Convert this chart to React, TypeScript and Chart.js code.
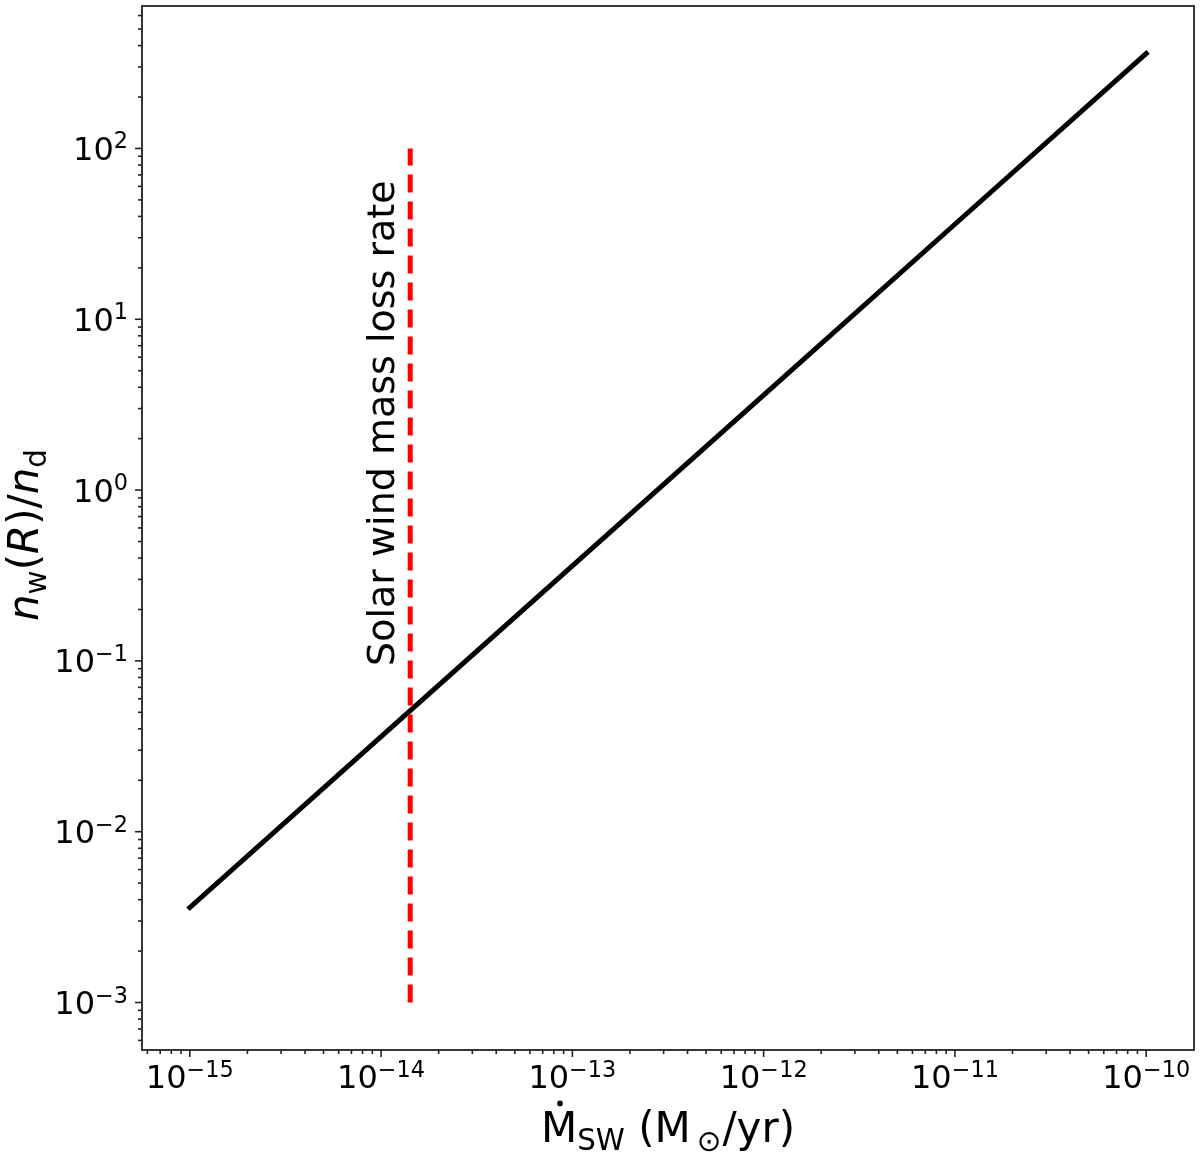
import React, { useEffect, useRef } from "react";
import { Chart, registerables } from "chart.js";

Chart.register(...registerables);

// Data
const massLossRate = [1e-15, 1e-14, 1e-13, 1e-12, 1e-11, 1e-10];
const densityRatio = [3.6e-3, 3.6e-2, 0.36, 3.6, 36, 360];
const solarMassLoss = [1.42e-14, 1.42e-14];
const solarLineRatio = [1e-3, 1e2];
const xTickExponents = [-15, -14, -13, -12, -11, -10];
const yTickExponents = [-3, -2, -1, 0, 1, 2];
const annotationText = "Solar wind mass loss rate";
const annotationY = 0.1;

const X_MIN = Math.pow(10, -15.25);
const X_MAX = Math.pow(10, -9.75);
const Y_MIN = Math.pow(10, -3.278);
const Y_MAX = Math.pow(10, 2.834);

const FONT = '"DejaVu Sans", "Liberation Sans", sans-serif';

type Seg = { t: string; size: number; italic?: boolean; dy?: number; gap?: number };

function segFont(s: Seg) {
  return `${s.italic ? "italic " : ""}${s.size}px ${FONT}`;
}
function richWidth(ctx: CanvasRenderingContext2D, segs: Seg[]) {
  let w = 0;
  for (const s of segs) {
    ctx.font = segFont(s);
    w += ctx.measureText(s.t).width + (s.gap || 0);
  }
  return w;
}
function drawRich(ctx: CanvasRenderingContext2D, segs: Seg[], x: number, y: number) {
  let cx = x;
  const pos: number[] = [];
  for (const s of segs) {
    ctx.font = segFont(s);
    pos.push(cx);
    ctx.fillText(s.t, cx, y + (s.dy || 0));
    cx += ctx.measureText(s.t).width + (s.gap || 0);
  }
  return pos;
}
function sup(exp: number): Seg[] {
  const e = exp < 0 ? "\u2212" + String(-exp) : String(exp);
  return [
    { t: "10", size: 32 },
    { t: e, size: 22.4, dy: -11.5 },
  ];
}

const axesPlugin = {
  id: "mplAxes",
  afterDraw(chart: any) {
    const ctx: CanvasRenderingContext2D = chart.ctx;
    const { left, right, top, bottom } = chart.chartArea;
    const xs = chart.scales.x;
    const ys = chart.scales.y;
    ctx.save();
    ctx.textAlign = "left";
    ctx.textBaseline = "alphabetic";
    ctx.fillStyle = "#000";

    // spines
    ctx.strokeStyle = "#222";
    ctx.lineWidth = 1.8;
    ctx.strokeRect(left, top, right - left, bottom - top);

    // ticks
    ctx.lineWidth = 1.6;
    const drawXTick = (v: number, len: number) => {
      const px = xs.getPixelForValue(v);
      ctx.beginPath();
      ctx.moveTo(px, bottom);
      ctx.lineTo(px, bottom + len);
      ctx.stroke();
    };
    const drawYTick = (v: number, len: number) => {
      const py = ys.getPixelForValue(v);
      ctx.beginPath();
      ctx.moveTo(left, py);
      ctx.lineTo(left - len, py);
      ctx.stroke();
    };
    for (let d = -16; d <= -9; d++) {
      for (let k = 1; k <= 9; k++) {
        const v = k * Math.pow(10, d);
        if (v < X_MIN || v > X_MAX) continue;
        drawXTick(v, k === 1 ? 7 : 4);
      }
    }
    for (let d = -4; d <= 3; d++) {
      for (let k = 1; k <= 9; k++) {
        const v = k * Math.pow(10, d);
        if (v < Y_MIN || v > Y_MAX) continue;
        drawYTick(v, k === 1 ? 7 : 4);
      }
    }

    // tick labels
    for (const e of xTickExponents) {
      const segs = sup(e);
      const w = richWidth(ctx, segs);
      const px = xs.getPixelForValue(Math.pow(10, e));
      drawRich(ctx, segs, px - w / 2, bottom + 38);
    }
    for (const e of yTickExponents) {
      const segs = sup(e);
      const w = richWidth(ctx, segs);
      const py = ys.getPixelForValue(Math.pow(10, e));
      drawRich(ctx, segs, left - 14 - w, py + 11.5);
    }

    // x label: Ṁ_SW (M_⊙/yr)
    const LS = 42;
    const xl: Seg[] = [
      { t: "M", size: LS },
      { t: "SW", size: LS * 0.7, dy: 8 },
      { t: " (M", size: LS, gap: 6 },
      { t: "\u2299", size: LS * 0.7, dy: 9, gap: 1 },
      { t: "/yr)", size: LS },
    ];
    const xw = richWidth(ctx, xl);
    const xBase = 1142;
    const pos = drawRich(ctx, xl, (left + right) / 2 - xw / 2, xBase);
    ctx.font = segFont(xl[0]);
    const mW = ctx.measureText("M").width;
    ctx.beginPath();
    ctx.arc(pos[0] + mW / 2 + 1, xBase - LS * 0.729 - 8, 2.8, 0, Math.PI * 2);
    ctx.fill();

    // y label: n_w(R)/n_d
    const yl: Seg[] = [
      { t: "n", size: LS, italic: true },
      { t: "w", size: LS * 0.7, dy: 8 },
      { t: "(", size: LS },
      { t: "R", size: LS, italic: true },
      { t: ")/", size: LS },
      { t: "n", size: LS, italic: true },
      { t: "d", size: LS * 0.7, dy: 8 },
    ];
    const yw = richWidth(ctx, yl);
    ctx.save();
    ctx.translate(38, 535);
    ctx.rotate(-Math.PI / 2);
    drawRich(ctx, yl, -yw / 2, 0);
    ctx.restore();

    // annotation
    const ax = xs.getPixelForValue(solarMassLoss[0]) - 16;
    const ay = ys.getPixelForValue(annotationY);
    ctx.save();
    ctx.translate(ax, ay + 5);
    ctx.rotate(-Math.PI / 2);
    ctx.font = `38px ${FONT}`;
    ctx.fillText(annotationText, 0, 0);
    ctx.restore();

    ctx.restore();
  },
};

export default function App() {
  const ref = useRef<HTMLCanvasElement | null>(null);
  useEffect(() => {
    if (!ref.current) return;
    const chart = new Chart(ref.current, {
      type: "scatter",
      data: {
        datasets: [
          {
            data: massLossRate.map((x, i) => ({ x, y: densityRatio[i] })),
            showLine: true,
            borderColor: "#000",
            borderWidth: 5,
            borderCapStyle: "square",
            pointRadius: 0,
            order: 2,
          },
          {
            data: solarMassLoss.map((x, i) => ({ x, y: solarLineRatio[i] })),
            showLine: true,
            borderColor: "#ff0000",
            borderWidth: 5,
            borderDash: [18, 9],
            borderCapStyle: "butt",
            pointRadius: 0,
            order: 1,
          },
        ],
      },
      options: {
        responsive: false,
        animation: false,
        devicePixelRatio: 1,
        layout: { padding: { left: 142, right: 6, top: 6, bottom: 112 } },
        plugins: { legend: { display: false }, tooltip: { enabled: false } },
        scales: {
          x: { type: "logarithmic", min: X_MIN, max: X_MAX, display: false },
          y: { type: "logarithmic", min: Y_MIN, max: Y_MAX, display: false },
        },
      },
      plugins: [axesPlugin],
    } as any);
    return () => chart.destroy();
  }, []);
  return (
    <div style={{ position: "absolute", left: 0, top: 0, width: 1200, height: 1162, background: "#fff" }}>
      <canvas ref={ref} width={1200} height={1162} style={{ display: "block" }} />
    </div>
  );
}
